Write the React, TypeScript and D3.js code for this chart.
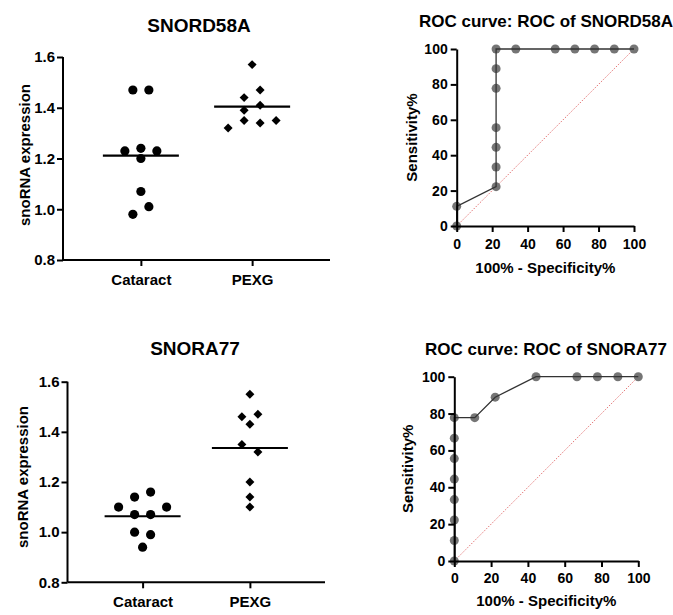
import React, { useEffect, useRef } from "react";
import * as d3 from "d3";

const groups = ["Cataract", "PEXG"];

// snoRNA expression, one value per eye
const snord58aCataract = [1.47, 1.47, 1.23, 1.24, 1.23, 1.2, 1.07, 0.98, 1.01];
const snord58aPexg = [1.57, 1.44, 1.47, 1.39, 1.41, 1.32, 1.35, 1.34, 1.35];
const snora77Cataract = [1.14, 1.16, 1.1, 1.07, 1.07, 1.1, 1.0, 0.99, 0.94];
const snora77Pexg = [1.55, 1.46, 1.47, 1.43, 1.35, 1.32, 1.2, 1.14, 1.1];
const exprTicks = [0.8, 1.0, 1.2, 1.4, 1.6];

// ROC points: 100% - specificity% and sensitivity%
const rocSnord58aX = [0, 0, 22.22, 22.22, 22.22, 22.22, 22.22, 22.22, 22.22, 33.33, 55.56, 66.67, 77.78, 88.89, 100];
const rocSnord58aY = [0, 11.11, 22.22, 33.33, 44.44, 55.56, 77.78, 88.89, 100, 100, 100, 100, 100, 100, 100];
const rocSnora77X = [0, 0, 0, 0, 0, 0, 0, 0, 11.11, 22.22, 44.44, 66.67, 77.78, 88.89, 100];
const rocSnora77Y = [0, 11.11, 22.22, 33.33, 44.44, 55.56, 66.67, 77.78, 77.78, 88.89, 100, 100, 100, 100, 100];
const rocTicks = [0, 20, 40, 60, 80, 100];

const FONT = "'Liberation Sans', Arial, sans-serif";

// GraphPad-like scatter: points close in value share a row and get spread sideways
function rowOffsets(values: number[], thr: number, step: number) {
  const order = d3.range(values.length).sort((a, b) => values[b] - values[a]);
  const offsets = new Array(values.length).fill(0);
  let i = 0;
  while (i < order.length) {
    const start = values[order[i]];
    const row = [order[i]];
    let j = i + 1;
    while (j < order.length && start - values[order[j]] < thr) {
      row.push(order[j]);
      j++;
    }
    row.sort((a, b) => a - b);
    row.forEach((idx, k) => (offsets[idx] = (k - (row.length - 1) / 2) * step));
    i = j;
  }
  return offsets;
}

function drawScatter(svg: any, p: any) {
  const y = d3.scaleLinear().domain([0.8, 1.6]).range([p.yBot, p.yTop]);
  const x = d3.scalePoint().domain(groups).range([p.x0, p.x1]).padding(0.7);

  svg.append("text")
    .text(p.title)
    .attr("x", p.titleX).attr("y", p.titleY)
    .attr("text-anchor", "middle")
    .attr("font-size", "19px").attr("font-weight", "bold")

  svg.append("text")
    .text("snoRNA expression")
    .attr("transform", `translate(${p.labelX},${p.labelY}) rotate(-90)`)
    .attr("text-anchor", "middle")
    .attr("font-size", "15px").attr("font-weight", "bold")

  const yAxis = svg.append("g")
    .attr("transform", `translate(${p.x0},0)`)
    .call(d3.axisLeft(y).tickValues(exprTicks).tickFormat(d3.format(".1f")).tickSize(6).tickSizeOuter(0).tickPadding(2))
  yAxis.selectAll("text").attr("font-size", "15px").attr("font-weight", "bold").attr("font-family", FONT).attr("fill", "#000")

  const xAxis = svg.append("g")
    .attr("transform", `translate(0,${p.yBot})`)
    .call(d3.axisBottom(x).tickSize(6).tickSizeOuter(0).tickPadding(8))
  xAxis.selectAll("text").attr("font-size", "15px").attr("font-weight", "bold").attr("font-family", FONT).attr("fill", "#000")

  svg.selectAll(".domain, .tick line").attr("stroke", "#000").attr("stroke-width", 2)
  yAxis.select(".domain").attr("d", `M0,${p.yBot}V${p.yTop}`)
  xAxis.select(".domain").attr("d", `M${p.x0},0H${p.x1}`)

  const cat = rowOffsets(p.cataract, 0.037, 16);
  svg.append("g").selectAll("circle")
    .data(p.cataract)
    .enter()
    .append("circle")
      .attr("cx", (d: number, i: number) => (x("Cataract") as number) + cat[i])
      .attr("cy", (d: number) => y(d))
      .attr("r", 4.6)
      .attr("fill", "#000")

  const pex = rowOffsets(p.pexg, 0.037, 16);
  const diamond = d3.symbol().type(d3.symbolSquare).size(40);
  svg.append("g").selectAll("path")
    .data(p.pexg)
    .enter()
    .append("path")
      .attr("d", diamond)
      .attr("transform", (d: number, i: number) => `translate(${(x("PEXG") as number) + pex[i]},${y(d)}) rotate(45)`)
      .attr("fill", "#000")

  const means = [d3.mean(p.cataract) as number, d3.mean(p.pexg) as number];
  svg.append("g").selectAll("line")
    .data(means)
    .enter()
    .append("line")
      .attr("x1", (d: number, i: number) => (x(groups[i]) as number) - 38)
      .attr("x2", (d: number, i: number) => (x(groups[i]) as number) + 38)
      .attr("y1", (d: number) => y(d))
      .attr("y2", (d: number) => y(d))
      .attr("stroke", "#000")
      .attr("stroke-width", 2.2)
}

function drawRoc(svg: any, p: any) {
  const x = d3.scaleLinear().domain([0, 100]).range([p.x0, p.x1]);
  const y = d3.scaleLinear().domain([0, 100]).range([p.y0, p.y100]);

  svg.append("text")
    .text(p.title)
    .attr("x", p.titleX).attr("y", p.titleY)
    .attr("text-anchor", "middle")
    .attr("font-size", "17px").attr("font-weight", "bold")

  svg.append("text")
    .text("Sensitivity%")
    .attr("transform", `translate(${p.labelX},${(p.y0 + p.y100) / 2}) rotate(-90)`)
    .attr("text-anchor", "middle")
    .attr("font-size", "15px").attr("font-weight", "bold")

  svg.append("text")
    .text("100% - Specificity%")
    .attr("x", (p.x0 + p.x1) / 2).attr("y", p.xTitleY)
    .attr("text-anchor", "middle")
    .attr("font-size", "15px").attr("font-weight", "bold")

  const g = svg.append("g")

  g.append("line")
    .attr("x1", x(0)).attr("y1", y(0))
    .attr("x2", x(100)).attr("y2", y(100))
    .attr("stroke", "#e06666")
    .attr("stroke-width", 0.9)
    .attr("stroke-dasharray", "1.5,1.5")

  const pts = p.xs.map((v: number, i: number) => [v, p.ys[i]]);

  g.selectAll("circle")
    .data(pts)
    .enter()
    .append("circle")
      .attr("cx", (d: number[]) => x(d[0]))
      .attr("cy", (d: number[]) => y(d[1]))
      .attr("r", 4.5)
      .attr("fill", "#757575")

  g.append("path")
    .datum(pts)
    .attr("d", d3.line().x((d: any) => x(d[0])).y((d: any) => y(d[1])))
    .attr("fill", "none")
    .attr("stroke", "#333")
    .attr("stroke-width", 1.3)

  const yAxis = svg.append("g")
    .attr("transform", `translate(${p.x0},0)`)
    .call(d3.axisLeft(y).tickValues(rocTicks).tickSize(6).tickSizeOuter(0).tickPadding(3))
  const xAxis = svg.append("g")
    .attr("transform", `translate(0,${p.y0})`)
    .call(d3.axisBottom(x).tickValues(rocTicks).tickSize(6).tickSizeOuter(0).tickPadding(p.xPad))
  svg.selectAll(".domain, .tick line").attr("stroke", "#000").attr("stroke-width", 2)
  yAxis.selectAll("text").attr("font-size", "14px").attr("font-weight", "bold").attr("font-family", FONT).attr("fill", "#000")
  xAxis.selectAll("text").attr("font-size", "14px").attr("font-weight", "bold").attr("font-family", FONT).attr("fill", "#000")
}

export default function App() {
  const ref = useRef<SVGSVGElement>(null);

  useEffect(() => {
    const svg = d3.select(ref.current);
    svg.selectAll("*").remove();

    drawScatter(svg, {
      title: "SNORD58A", cataract: snord58aCataract, pexg: snord58aPexg,
      x0: 63, x1: 330, yTop: 57, yBot: 260,
      titleX: 199, titleY: 32, labelX: 30, labelY: 155
    })
    drawScatter(svg, {
      title: "SNORA77", cataract: snora77Cataract, pexg: snora77Pexg,
      x0: 67.5, x1: 325, yTop: 381.7, yBot: 582.3,
      titleX: 195, titleY: 355, labelX: 28, labelY: 477
    })
    drawRoc(svg, {
      title: "ROC curve: ROC of SNORD58A", xs: rocSnord58aX, ys: rocSnord58aY,
      x0: 456.7, x1: 634, y0: 226, y100: 49,
      titleX: 546, titleY: 26.5, labelX: 417, xTitleY: 273, xPad: 7
    })
    drawRoc(svg, {
      title: "ROC curve: ROC of SNORA77", xs: rocSnora77X, ys: rocSnora77Y,
      x0: 454.3, x1: 638.3, y0: 561, y100: 376.7,
      titleX: 546, titleY: 355, labelX: 413, xTitleY: 606, xPad: 6
    })
  }, []);

  return (
    <svg
      ref={ref}
      width={673}
      height={615}
      style={{ position: "absolute", left: 0, top: 0, background: "#fff", fontFamily: FONT }}
    />
  );
}
